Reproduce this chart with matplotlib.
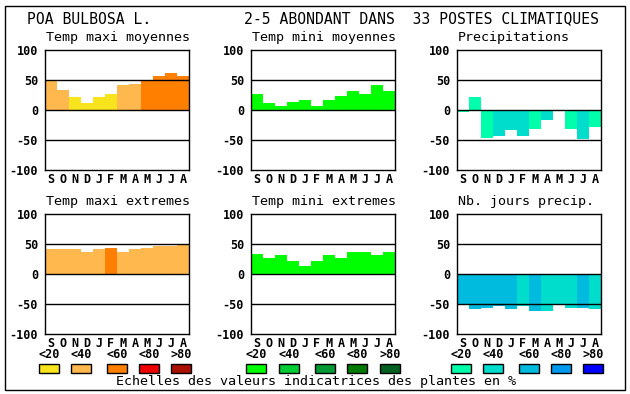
import matplotlib.pyplot as plt
import matplotlib.patches as patches

W, H = 630, 394

months = ['S', 'O', 'N', 'D', 'J', 'F', 'M', 'A', 'M', 'J', 'J', 'A']
yticks = [-100, -50, 0, 50, 100]

# palettes (classes <20 <40 <60 <80 >80)
pal_temp = ['#f8e41c', '#ffb84d', '#ff8000', '#ee0000', '#aa1000']
pal_mini = ['#00ff00', '#00cc33', '#009933', '#007a00', '#006020']
pal_prec = ['#00ffaa', '#00ddcc', '#00bbdd', '#0099ee', '#0000ff']
class_labels = ['<20', '<40', '<60', '<80', '>80']

tmax_moy = [49, 34, 22, 12, 21, 26, 42, 44, 48, 56, 61, 56]
tmax_moy_cls = [1, 1, 0, 0, 0, 0, 1, 1, 2, 2, 2, 2]

tmin_moy = [26, 12, 6, 14, 17, 7, 16, 24, 31, 26, 41, 32]
tmin_moy_cls = [0] * 12

precip = [-4, 22, -46, -44, -34, -44, -31, -16, 0, -31, -48, -28]
precip_cls = [0, 0, 0, 1, 1, 1, 0, 1, 0, 0, 1, 0]

tmax_ext = [41, 42, 42, 37, 41, 44, 36, 41, 44, 46, 47, 49]
tmax_ext_cls = [1, 1, 1, 1, 1, 2, 1, 1, 1, 1, 1, 1]

tmin_ext = [34, 27, 32, 21, 14, 22, 32, 27, 36, 36, 31, 37]
tmin_ext_cls = [0] * 12

nbjours = [-50, -58, -56, -54, -58, -54, -61, -61, -50, -56, -56, -58]
nbjours_cls = [2, 2, 2, 2, 2, 1, 2, 1, 1, 1, 2, 1]

panels = [
    ('Temp maxi moyennes', tmax_moy, tmax_moy_cls, pal_temp),
    ('Temp mini moyennes', tmin_moy, tmin_moy_cls, pal_mini),
    ('Precipitations', precip, precip_cls, pal_prec),
    ('Temp maxi extremes', tmax_ext, tmax_ext_cls, pal_temp),
    ('Temp mini extremes', tmin_ext, tmin_ext_cls, pal_mini),
    ('Nb. jours precip.', nbjours, nbjours_cls, pal_prec),
]

MONO = 'DejaVu Sans Mono'


def fx(x):
    return x / W


def fy(y):
    return 1 - y / H


fig = plt.figure(figsize=(W / 100, H / 100), dpi=100)

# outer frame
fig.patches.append(patches.Rectangle((fx(4.5), fy(389.5)), fx(620), 384 / H,
                                     transform=fig.transFigure, fill=False,
                                     lw=1, edgecolor='black'))

fig.text(fx(27), fy(19), 'POA BULBOSA L.', family=MONO, fontsize=10.6,
         va='center', ha='left')
fig.text(fx(244), fy(19), '2-5 ABONDANT DANS  33 POSTES CLIMATIQUES',
         family=MONO, fontsize=10.6, va='center', ha='left')

lefts = [45, 251, 457]
tops = [50, 214]

for i, (title, vals, cls, pal) in enumerate(panels):
    left = lefts[i % 3]
    top = tops[i // 3]
    ax = fig.add_axes([fx(left), fy(top + 120), fx(144), 120 / H])
    x = list(range(12))
    ax.bar(x, vals, width=1.0, color=[pal[c] for c in cls], linewidth=0,
           zorder=1)
    for yl in (50, 0, -50):
        ax.axhline(yl, color='black', lw=1, zorder=2)
    ax.set_xlim(-0.5, 11.5)
    ax.set_ylim(-100, 100)
    ax.set_xticks(x)
    ax.set_xticklabels(months, family=MONO, fontweight='bold', fontsize=8.5)
    ax.set_yticks(yticks)
    ax.set_yticklabels([str(v) for v in yticks], family=MONO,
                       fontweight='bold', fontsize=8.5)
    ax.tick_params(length=0, pad=2)
    ax.tick_params(axis='y', pad=5)
    for s in ax.spines.values():
        s.set_linewidth(1)
    fig.text(fx(left + 1), fy(top - 12), title, family=MONO, fontsize=9.6,
             va='center', ha='left')

# legend scales
sw_lefts = [[39, 71, 107, 139, 171],
            [246, 279, 315, 347, 380],
            [451, 483, 519, 551, 583]]
for pal, xs in zip([pal_temp, pal_mini, pal_prec], sw_lefts):
    for lab, col, xl in zip(class_labels, pal, xs):
        fig.patches.append(patches.Rectangle((fx(xl), fy(373)), fx(20), 9 / H,
                                             transform=fig.transFigure,
                                             facecolor=col, edgecolor='black',
                                             lw=1))
        fig.text(fx(xl + 10), fy(355), lab, family=MONO, fontweight='bold',
                 fontsize=8.5, ha='center', va='center')

fig.text(fx(316), fy(382), 'Echelles des valeurs indicatrices des plantes en %',
         family=MONO, fontsize=9.6, ha='center', va='center')

fig.savefig('out.png', dpi=100)
